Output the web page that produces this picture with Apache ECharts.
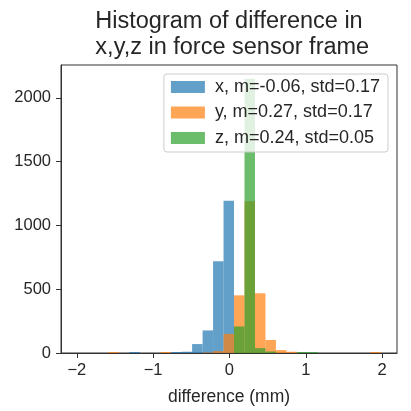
<!DOCTYPE html>
<html>
<head>
<meta charset="utf-8">
<script src="https://cdn.jsdelivr.net/npm/echarts@6/dist/echarts.min.js"></script>
<style>
  html, body { margin: 0; padding: 0; background: #fff; }
  #chart { width: 411px; height: 411px; }
</style>
</head>
<body>
<div id="chart"></div>
<script>
// shared histogram bins (30 bins)
const binStart = -2.137;
const binWidth = 0.1373;

// counts per bin
const countsX = [0, 0, 0, 0, 0, 0, 8, 0, 0, 0, 8, 10, 70, 177, 720, 1193, 0, 0, 0, 0, 0, 0, 0, 0, 0, 0, 0, 0, 0, 0];
const countsY = [0, 0, 0, 0, 8, 0, 0, 0, 0, 8, 0, 0, 0, 4, 15, 150, 452, 1190, 468, 102, 23, 10, 0, 0, 0, 0, 0, 0, 0, 8];
const countsZ = [0, 0, 0, 0, 0, 0, 0, 0, 0, 0, 0, 0, 0, 0, 0, 0, 208, 2150, 38, 12, 0, 0, 8, 8, 0, 0, 0, 0, 0, 0];

const seriesNames = ["x, m=-0.06, std=0.17", "y, m=0.27, std=0.17", "z, m=0.24, std=0.05"];
const seriesColors = ["rgba(31,119,180,0.7)", "rgba(255,127,14,0.7)", "rgba(44,160,44,0.7)"];

const xTicks = [-2, -1, 0, 1, 2];
const yTicks = [0, 500, 1000, 1500, 2000];

const FONT = "Liberation Sans, Arial, sans-serif";
const INK = "#262626";

function toBars(counts) {
  const out = [];
  counts.forEach((c, i) => {
    if (c > 0) out.push([binStart + i * binWidth, binStart + (i + 1) * binWidth, c]);
  });
  return out;
}

function histSeries(name, counts, color) {
  return {
    name,
    type: "custom",
    itemStyle: { color },
    encode: { x: [0, 1], y: 2 },
    data: toBars(counts),
    renderItem: (params, api) => {
      const p0 = api.coord([api.value(0), api.value(2)]);
      const p1 = api.coord([api.value(1), 0]);
      return {
        type: "rect",
        shape: { x: p0[0], y: p0[1], width: p1[0] - p0[0], height: p1[1] - p0[1] },
        style: { fill: color },
      };
    },
  };
}

const chart = echarts.init(document.getElementById("chart"), null, { renderer: "canvas" });

chart.setOption({
  animation: false,
  textStyle: { fontFamily: FONT },
  title: {
    text: "Histogram of difference in\n x,y,z in force sensor frame",
    left: 224,
    top: 4,
    textAlign: "center",
    textStyle: { fontFamily: FONT, fontSize: 23.5, fontWeight: "normal", color: INK, lineHeight: 26 },
  },
  legend: {
    orient: "vertical",
    right: 23,
    top: 74,
    padding: [4, 8, 5, 7],
    itemWidth: 34,
    itemHeight: 12,
    itemGap: 7.5,
    icon: "rect",
    backgroundColor: "rgba(255,255,255,0.8)",
    borderColor: "#cccccc",
    borderWidth: 1,
    borderRadius: 3,
    textStyle: { fontFamily: FONT, fontSize: 18, color: INK, padding: [0, 0, 0, 5] },
    data: seriesNames,
  },
  grid: {
    left: 61,
    right: 14,
    top: 65,
    bottom: 57,
    show: true,
    borderColor: "#333",
    borderWidth: 1,
  },
  xAxis: {
    type: "value",
    min: -2.207,
    max: 2.195,
    name: "difference (mm)",
    nameLocation: "middle",
    nameGap: 35,
    nameTextStyle: { fontFamily: FONT, fontSize: 17.5, color: INK },
    axisLine: { show: true, onZero: false, lineStyle: { color: "#333" } },
    axisTick: { show: true, length: 5, customValues: xTicks, lineStyle: { color: "#333" } },
    axisLabel: {
      customValues: xTicks,
      margin: 9,
      fontFamily: FONT,
      fontSize: 16.5,
      color: INK,
      formatter: (v) => String(v).replace("-", "\u2212"),
    },
    splitLine: { show: false },
  },
  yAxis: {
    type: "value",
    min: 0,
    max: 2257,
    axisLine: { show: true, onZero: false, lineStyle: { color: "#333" } },
    axisTick: { show: true, length: 5, customValues: yTicks, lineStyle: { color: "#333" } },
    axisLabel: {
      customValues: yTicks,
      margin: 10,
      fontFamily: FONT,
      fontSize: 16.5,
      color: INK,
      formatter: (v) => String(v),
    },
    splitLine: { show: false },
  },
  series: [
    histSeries(seriesNames[0], countsX, seriesColors[0]),
    histSeries(seriesNames[1], countsY, seriesColors[1]),
    histSeries(seriesNames[2], countsZ, seriesColors[2]),
  ],
});
</script>
</body>
</html>
